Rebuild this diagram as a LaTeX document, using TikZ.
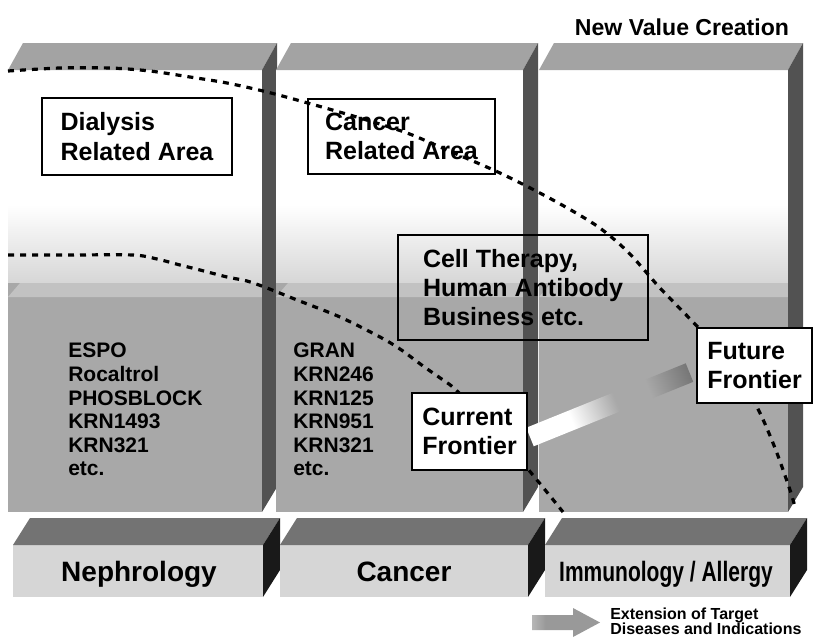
\documentclass[tikz,border=0pt]{standalone}
\usepackage{fontspec}
\usepackage{graphicx}
\setmainfont{Liberation Sans}
\definecolor{topface}{gray}{0.64}
\definecolor{sideface}{gray}{0.32}
\definecolor{lowblk}{gray}{0.66}
\definecolor{lowbevel}{gray}{0.76}
\definecolor{bandgray}{gray}{0.84}
\definecolor{bartop}{gray}{0.45}
\definecolor{barfront}{gray}{0.84}
\definecolor{barside}{gray}{0.1}
\definecolor{arrdark}{gray}{0.45}
\definecolor{legarr}{gray}{0.6}
\pgfdeclarehorizontalshading{frontiershade}{100bp}{color(0bp)=(white); color(38bp)=(white); color(52bp)=(lowblk); color(62bp)=(lowblk); color(76bp)=(arrdark); color(100bp)=(arrdark)}
\pgfdeclarehorizontalshading{legendshade}{100bp}{color(0bp)=(white); color(35bp)=(legarr); color(100bp)=(legarr)}
\begin{document}
\begin{tikzpicture}[x=0.75pt,y=-0.75pt,
  box/.style={draw=black, line width=1.6pt, align=left, inner sep=0pt,
    font=\bfseries\fontsize{18.75}{22}\selectfont},
  frontierline/.style={line width=2.4pt, dash pattern=on 4.5pt off 4.5pt},
  druglist/.style={align=left, anchor=north west, inner sep=0pt,
    font=\bfseries\fontsize{15.75}{17.7}\selectfont},
  barlabel/.style={anchor=base, inner sep=0pt, font=\bfseries\fontsize{21}{24}\selectfont},
]
\useasboundingbox (0,0) rectangle (815,640);
\fill[white] (0,0) rectangle (815,640);

% columns
\foreach \a/\b in {8/262, 276/523, 539/788}{
  \fill[white] (\a,70) rectangle (\b,283);
  \shade[top color=white, bottom color=bandgray] (\a,205) rectangle (\b,283);
  \fill[lowblk] (\a,283) rectangle (\b,512);
  \fill[lowbevel] (\a,297) -- (\a+12,283) -- (\b,283) -- (\b,297) -- cycle;
  \fill[topface] (\a,70) -- (\a+15,43) -- (\b+15,43) -- (\b,70) -- cycle;
  \fill[sideface] (\b,70) -- (\b+15,43) -- (\b+15,487) -- (\b,512) -- cycle;
}

% category bars
\foreach \a/\b in {13/263, 280/528, 545/790}{
  \fill[barfront] (\a,545) rectangle (\b,597);
  \fill[bartop] (\a,545) -- (\a+17,518) -- (\b+17,518) -- (\b,545) -- cycle;
  \fill[barside] (\b,545) -- (\b+17,518) -- (\b+17,570) -- (\b,597) -- cycle;
}
\node[barlabel] (neph) at (139,581) {Nephrology};
\node[barlabel] (canc) at (404,581) {Cancer};
\node[barlabel] (immu) at (666,581) {\scalebox{0.75}[1]{Immunology / Allergy}};

% title
\node[anchor=base, inner sep=0pt, font=\bfseries\fontsize{17.3}{20}\selectfont] (nvc) at (682,35) {New Value Creation};

% area boxes
\node[box, minimum width=142.5pt, minimum height=57.75pt] (dial) at (137,136.5) {Dialysis\\Related Area};
\node[box, minimum width=140.25pt, minimum height=56.25pt] (cancarea) at (401.5,136.5) {Cancer\\Related Area};
\node[box, minimum width=187.5pt, minimum height=78.75pt] (cell) at (523,287.5) {Cell Therapy,\\Human Antibody\\Business etc.};

% drug lists
\node[druglist] (list1) at (68,343) {ESPO\\Rocaltrol\\PHOSBLOCK\\KRN1493\\KRN321\\etc.};
\node[druglist] (list2) at (293,343) {GRAN\\KRN246\\KRN125\\KRN951\\KRN321\\etc.};

% shaded extension arrow
\begin{scope}[transform canvas={shift={(530,437)}, rotate=22}]
  \shade[shading=frontiershade] (0,-10) rectangle (172,10);
\end{scope}

% frontier lines
\draw[frontierline] plot[smooth] coordinates {(8,71) (60,68) (110,68) (150,71) (190,77) (227,83) (263,91) (297,100) (360,118) (407,133) (447,150) (500,173) (553,200) (597,226) (628,252) (660,288) (693,322) (730,362) (757,407) (775,448) (790,490) (795,507)};
\draw[frontierline] plot[smooth] coordinates {(8,255) (70,255) (133,255) (157,259) (180,265) (200,270) (227,277) (247,281) (267,288) (297,300) (340,317) (380,337) (400,349) (423,366) (443,380) (457,391) (500,436) (537,480) (563,512)};

% frontier boxes
\node[box, fill=white, minimum width=86.25pt, minimum height=57.75pt] (curr) at (469.5,431.5) {Current\\Frontier};
\node[box, fill=white, minimum width=86.25pt, minimum height=56.25pt] (fut) at (754.5,365.5) {Future\\Frontier};

% legend
\shade[shading=legendshade] (532,615) -- (573,615) -- (573,608) -- (600,622.5) -- (573,637) -- (573,630) -- (532,630) -- cycle;
\node[anchor=north west, align=left, inner sep=0pt, font=\bfseries\fontsize{12}{11.25}\selectfont] (legend) at (610,608) {Extension of Target\\Diseases and Indications};
\end{tikzpicture}
\end{document}
